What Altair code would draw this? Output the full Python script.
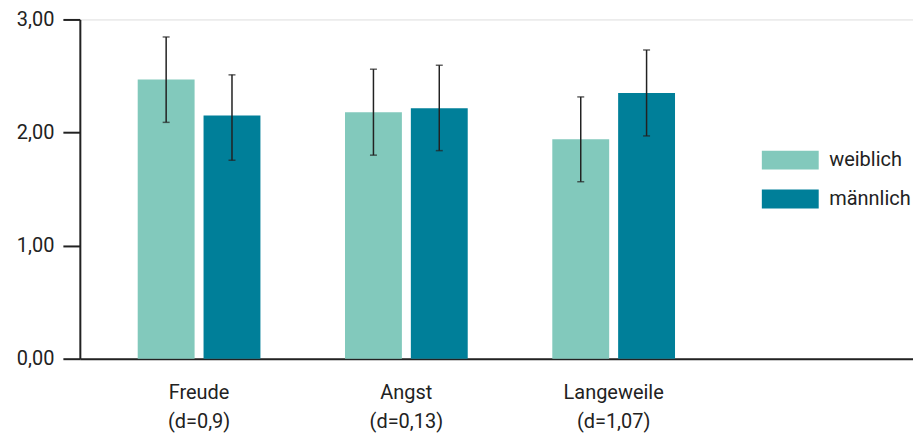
import altair as alt
import pandas as pd

categories = ["Freude|(d=0,9)", "Angst|(d=0,13)", "Langeweile|(d=1,07)"]
groups = ["weiblich", "männlich"]
colors = ["#82C9BC", "#007F99"]

mean_w = [2.47, 2.18, 1.94]
mean_m = [2.15, 2.215, 2.35]
lo_w = [2.09, 1.80, 1.565]
hi_w = [2.845, 2.56, 2.315]
lo_m = [1.755, 1.84, 1.97]
hi_m = [2.51, 2.595, 2.73]

y_ticks = [0, 1, 2, 3]

rows = []
for i, c in enumerate(categories):
    rows.append({"cat": c, "g": groups[0], "mean": mean_w[i], "lo": lo_w[i], "hi": hi_w[i]})
    rows.append({"cat": c, "g": groups[1], "mean": mean_m[i], "lo": lo_m[i], "hi": hi_m[i]})
df = pd.DataFrame(rows)

FONT = "Roboto"
TXT = "#222222"
FS = 20

x_enc = alt.X(
    "cat:N",
    sort=categories,
    title=None,
    scale=alt.Scale(paddingInner=0.408, paddingOuter=0.7136, align=0.1956),
    axis=alt.Axis(
        labelExpr="split(datum.label, '|')",
        labelAngle=0,
        ticks=False,
        domainColor=TXT,
        domainWidth=2,
        labelPadding=24,
        labelFontSize=FS,
        labelLineHeight=29,
        labelColor=TXT,
        labelFont=FONT,
    ),
)
xoff = alt.XOffset("g:N", sort=groups, scale=alt.Scale(paddingInner=0.136, paddingOuter=0))

y_scale = alt.Scale(domain=[0, 3], nice=False)

bars = alt.Chart(df).mark_bar().encode(
    x=x_enc,
    xOffset=xoff,
    y=alt.Y(
        "mean:Q",
        scale=y_scale,
        title=None,
        axis=alt.Axis(
            values=y_ticks,
            format=".2f",
            labelExpr="replace(datum.label, '.', ',')",
            grid=False,
            tickSize=17,
            tickWidth=2,
            tickColor=TXT,
            domainColor=TXT,
            domainWidth=2,
            labelPadding=9,
            labelFontSize=FS,
            labelColor=TXT,
            labelFont=FONT,
        ),
    ),
    color=alt.Color(
        "g:N",
        sort=groups,
        scale=alt.Scale(domain=groups, range=colors),
        legend=alt.Legend(
            title=None,
            orient="none",
            legendX=702,
            legendY=131,
            symbolType="M-3,-1H3V1H-3Z",
            symbolSize=361,
            symbolStrokeWidth=0,
            symbolOpacity=1,
            labelOffset=29,
            rowPadding=19,
            labelFontSize=FS,
            labelColor=TXT,
            labelFont=FONT,
            padding=0,
        ),
    ),
)

rules = alt.Chart(df).mark_rule(color=TXT, strokeWidth=1.5).encode(
    x=alt.X("cat:N", sort=categories),
    xOffset=alt.XOffset("g:N", sort=groups),
    y=alt.Y("lo:Q", scale=y_scale),
    y2="hi:Q",
)

caps_hi = alt.Chart(df).mark_tick(color=TXT, size=7, thickness=1.5, orient="horizontal").encode(
    x=alt.X("cat:N", sort=categories),
    xOffset=alt.XOffset("g:N", sort=groups),
    y=alt.Y("hi:Q", scale=y_scale),
)
caps_lo = alt.Chart(df).mark_tick(color=TXT, size=7, thickness=1.5, orient="horizontal").encode(
    x=alt.X("cat:N", sort=categories),
    xOffset=alt.XOffset("g:N", sort=groups),
    y=alt.Y("lo:Q", scale=y_scale),
)

chart = (
    alt.layer(bars, rules, caps_hi, caps_lo)
    .properties(
        width=835,
        height=340,
        autosize=alt.AutoSizeParams(type="none"),
        padding={"left": 72, "top": 11, "right": 0, "bottom": 76},
    )
    .configure_view(stroke=None)
    .configure(font=FONT)
)

chart.save("out.html", embed_options={"renderer": "svg", "actions": False})
